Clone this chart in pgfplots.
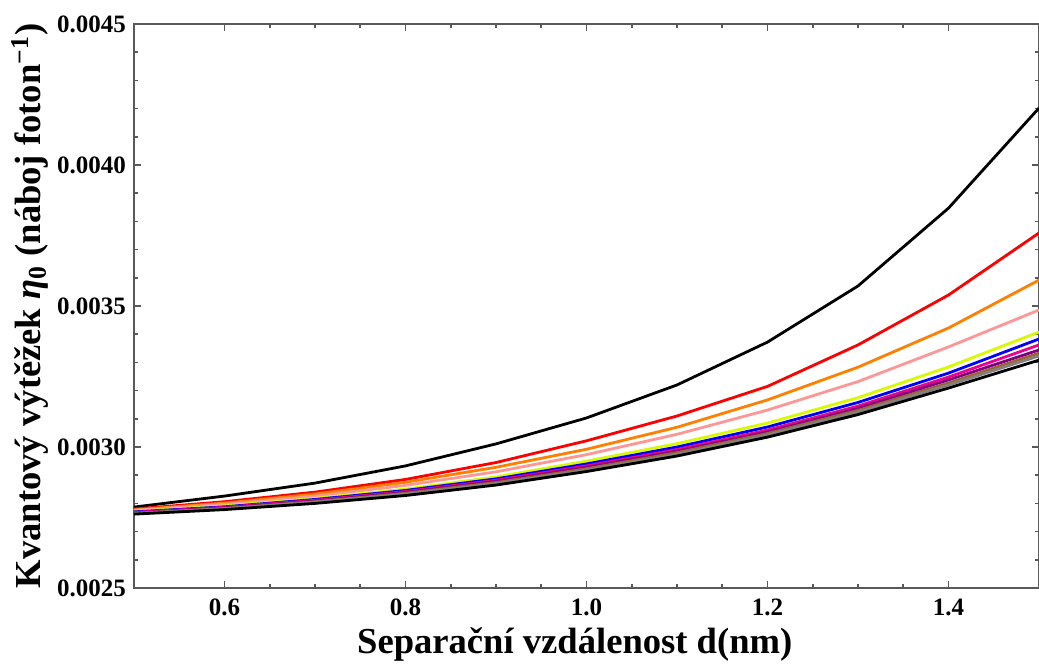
\documentclass[border=0pt]{standalone}
\usepackage{fontspec}
\setmainfont{Liberation Serif}
\usepackage{pgfplots}
\usepackage{pgfplotstable}
\pgfplotsset{compat=1.18}
\usetikzlibrary{calc}
\definecolor{cOrange}{RGB}{255,128,0}
\definecolor{cPink}{RGB}{255,150,150}
\definecolor{cYellow}{RGB}{215,250,0}
\definecolor{cPurple}{RGB}{128,0,128}
\definecolor{cBrown}{RGB}{153,102,51}
\definecolor{cGray}{RGB}{128,128,128}
\pgfplotstableread{
x top red orange pink yellow blue magenta purple brown gray bottom
0.5 0.002787 0.002780 0.002777 0.002775 0.002772 0.002770 0.002768 0.002766 0.002765 0.002764 0.002762
0.6 0.002826 0.002806 0.002801 0.002797 0.002791 0.002788 0.002786 0.002784 0.002782 0.002781 0.002778
0.7 0.002872 0.002840 0.002833 0.002826 0.002818 0.002814 0.002811 0.002808 0.002806 0.002804 0.002800
0.8 0.002933 0.002885 0.002875 0.002864 0.002851 0.002846 0.002842 0.002839 0.002836 0.002833 0.002828
0.9 0.003011 0.002945 0.002928 0.002912 0.002894 0.002887 0.002882 0.002878 0.002874 0.002870 0.002865
1.0 0.003103 0.003022 0.002992 0.002973 0.002950 0.002940 0.002933 0.002928 0.002923 0.002918 0.002913
1.1 0.003220 0.003110 0.003070 0.003045 0.003012 0.003000 0.002991 0.002985 0.002980 0.002974 0.002968
1.2 0.003372 0.003215 0.003167 0.003131 0.003085 0.003071 0.003060 0.003053 0.003048 0.003043 0.003035
1.3 0.003571 0.003362 0.003283 0.003232 0.003175 0.003158 0.003145 0.003137 0.003130 0.003124 0.003115
1.4 0.003847 0.003539 0.003422 0.003355 0.003284 0.003262 0.003248 0.003238 0.003227 0.003220 0.003209
1.5 0.004202 0.003759 0.003592 0.003486 0.003408 0.003383 0.003362 0.003344 0.003333 0.003323 0.003308
}\datatable
\begin{document}
\begin{tikzpicture}
\begin{axis}[
  scale only axis,
  width=452.5pt, height=282pt,
  xmin=0.5, xmax=1.5, ymin=0.0025, ymax=0.0045,
  xtick={0.6,0.8,1.0,1.2,1.4},
  minor x tick num=3,
  ytick={0.0025,0.0030,0.0035,0.0040,0.0045},
  minor y tick num=4,
  scaled y ticks=false,
  tick align=inside,
  major tick length=3.5pt,
  minor tick length=2pt,
  axis line style={black!65, line width=0.9pt},
  every tick/.style={black!65, line width=0.8pt},
  /pgf/number format/assume math mode=true,
  tick label style={font=\fontsize{12.5}{14}\selectfont\bfseries},
  xticklabel style={/pgf/number format/fixed,/pgf/number format/fixed zerofill,/pgf/number format/precision=1, yshift=-2pt},
  yticklabel style={/pgf/number format/fixed,/pgf/number format/fixed zerofill,/pgf/number format/precision=4, xshift=-0.5pt},
  xlabel={Separační vzdálenost d(nm)},
  ylabel={Kvantový výtěžek \textit{η}\textsubscript{0} (náboj foton\textsuperscript{−1})},
  label style={font=\fontsize{18.3}{20}\selectfont\bfseries},
  xlabel style={at={(axis description cs:0.487,-0.101)}, anchor=center},
  ylabel style={at={(axis description cs:-0.115,0.5)}, anchor=center, rotate=0},
  every axis plot/.append style={line width=1.4pt, no markers},
  clip=true,
]
\addplot[black] table[x=x,y=top]{\datatable};
\addplot[red] table[x=x,y=red]{\datatable};
\addplot[cOrange] table[x=x,y=orange]{\datatable};
\addplot[cPink] table[x=x,y=pink]{\datatable};
\addplot[cYellow] table[x=x,y=yellow]{\datatable};
\addplot[blue] table[x=x,y=blue]{\datatable};
\addplot[magenta] table[x=x,y=magenta]{\datatable};
\addplot[cPurple] table[x=x,y=purple]{\datatable};
\addplot[cBrown] table[x=x,y=brown]{\datatable};
\addplot[cGray] table[x=x,y=gray]{\datatable};
\addplot[black] table[x=x,y=bottom]{\datatable};
\end{axis}
\pgfresetboundingbox
\path ($(current axis.south west)+(-67pt,-40.5pt)$) rectangle ($(current axis.north east)+(0pt,12pt)$);
\end{tikzpicture}
\end{document}
